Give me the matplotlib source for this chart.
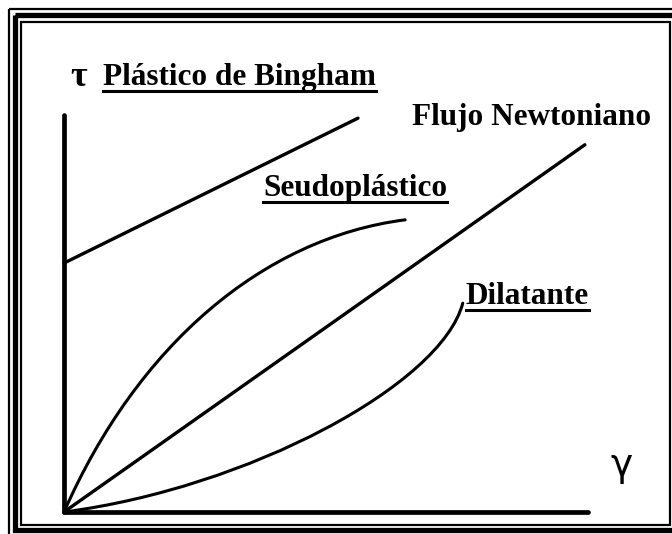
import matplotlib
matplotlib.use("Agg")
import matplotlib.pyplot as plt
from matplotlib.patches import Rectangle, PathPatch
from matplotlib.path import Path

# shear rate (x) / shear stress (y), both in 0..100 axis units
bingham_x = [0, 56.1]
bingham_y = [62.7, 99.2]
newton_x = [0, 99.4]
newton_y = [0, 92.5]
# smooth curves as cubic Bezier control points (start, ctrl, ctrl, end)
pseudo_x = [0, 14, 38, 65.1]
pseudo_y = [0, 42, 69, 73.6]
dilat_x = [0, 35, 72, 76.1]
dilat_y = [0, 6, 32, 52.6]

W, H = 672, 534
fig = plt.figure(figsize=(W/100, H/100), dpi=100)
fig.patch.set_facecolor("white")

# overlay in pixel coords for frame + labels
ov = fig.add_axes([0, 0, 1, 1]); ov.set_xlim(0, W); ov.set_ylim(H, 0); ov.axis("off")
for (x0, y0, x1, y1, lw) in [(9, 9, 690, 550, 1.6), (15, 15, 682, 530, 3.8), (21, 22, 670, 525, 1.6)]:
    ov.add_patch(Rectangle((x0, y0), x1-x0, y1-y0, fill=False, ec="black", lw=lw, clip_on=False))

ax = fig.add_axes([64/W, (H-512)/H, 524/W, 397/H])
ax.set_xlim(0, 100); ax.set_ylim(0, 100); ax.axis("off")
kw = dict(color="black", solid_capstyle="round", clip_on=False)
ax.plot([0, 0], [0, 100], lw=3.4, **kw)
ax.plot([0, 100], [0, 0], lw=3.4, **kw)
ax.plot(bingham_x, bingham_y, lw=2.4, **kw)
ax.plot(newton_x, newton_y, lw=2.4, **kw)
codes = [Path.MOVETO, Path.CURVE4, Path.CURVE4, Path.CURVE4]
for xs, ys in [(pseudo_x, pseudo_y), (dilat_x, dilat_y)]:
    p = Path(list(zip(xs, ys)), codes)
    ax.add_patch(PathPatch(p, fill=False, ec="black", lw=2.2, capstyle="round", clip_on=False))

serif = ["Liberation Serif", "DejaVu Serif"]
labels = [("Plástico de Bingham", 103, 85, True),
          ("Flujo Newtoniano", 412, 125, False),
          ("Seudoplástico", 263, 196, True),
          ("Dilatante", 466, 304, True)]
texts = []
for s, x, y, ul in labels:
    t = ov.text(x, y, s, fontsize=22.5, fontweight="bold", family=serif, ha="left", va="baseline")
    texts.append((t, ul))
ov.text(70, 86, "τ", fontsize=26, fontweight="bold", family=serif, va="baseline")
ov.text(610, 476, "γ", fontsize=27, family=["DejaVu Sans"], va="baseline")

fig.canvas.draw()
r = fig.canvas.get_renderer()
inv = ov.transData.inverted()
for t, ul in texts:
    if not ul:
        continue
    bb = t.get_window_extent(r)
    (x0, _), (x1, _) = inv.transform([(bb.x0, 0), (bb.x1, 0)])
    _, yb = t.get_position()
    ov.plot([x0, x1], [yb + 6, yb + 6], color="black", lw=2.2, clip_on=False)

fig.savefig("out.png", dpi=100, facecolor="white")
